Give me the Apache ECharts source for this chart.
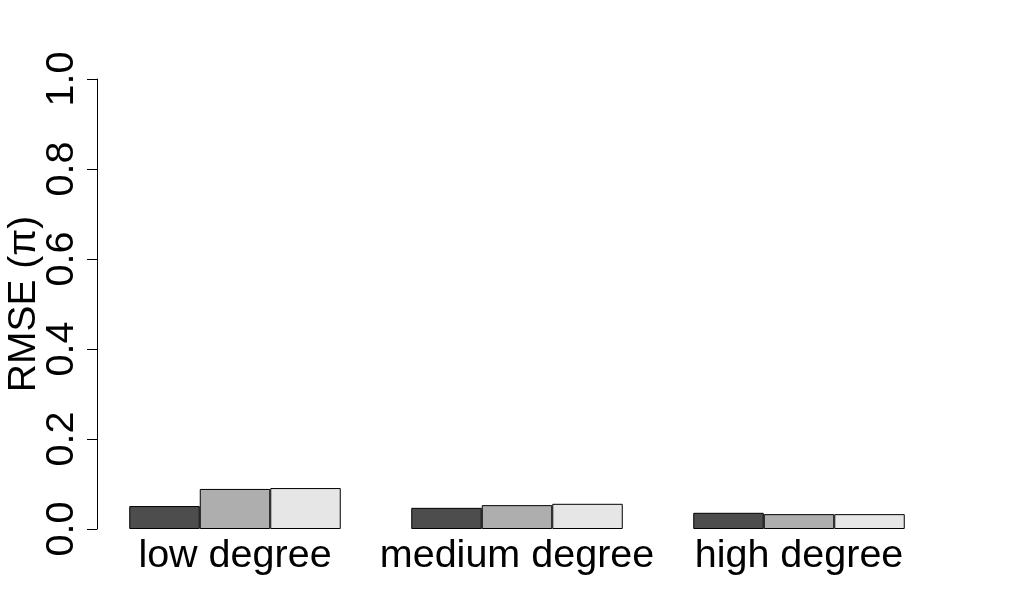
<!DOCTYPE html>
<html>
<head>
<meta charset="utf-8">
<script src="https://cdn.jsdelivr.net/npm/echarts@6/dist/echarts.min.js"></script>
<style>html,body{margin:0;padding:0;background:#fff;}#c{width:1016px;height:608px;}</style>
</head>
<body>
<div id="c"></div>
<script>
const categories = ['low degree', 'medium degree', 'high degree'];
const series1 = [0.051, 0.047, 0.036];
const series2 = [0.089, 0.053, 0.033];
const series3 = [0.091, 0.056, 0.033];
const yTicks = [0, 0.2, 0.4, 0.6, 0.8, 1.0];
const colors = ['#4d4d4d', '#aeaeae', '#e6e6e6'];

const chart = echarts.init(document.getElementById('c'));
const font = 'Liberation Sans, Arial, sans-serif';
function mk(data, i) {
  return {
    type: 'bar', data: data, barWidth: 70.5, barGap: '0%',
    itemStyle: { color: colors[i], borderColor: '#000', borderWidth: 1 },
    silent: true
  };
}
chart.setOption({
  animation: false,
  grid: { left: 94, width: 846, top: 79, height: 450, containLabel: false, outerBoundsMode: 'none' },
  xAxis: {
    type: 'category', data: categories,
    axisLine: { show: false }, axisTick: { show: false },
    axisLabel: { interval: 0, fontSize: 39.5, color: '#000', fontFamily: font, margin: 7, hideOverlap: false }
  },
  yAxis: {
    type: 'value', min: 0, max: 1, interval: 0.2, offset: -3,
    name: 'RMSE (π)', nameLocation: 'middle', nameRotate: 90, nameGap: 53, nameMoveOverlap: false,
    nameTextStyle: { fontSize: 39, color: '#000', fontFamily: font },
    splitLine: { show: false },
    axisLine: { show: true, lineStyle: { color: '#000', width: 1 } },
    axisTick: { show: true, length: 10, lineStyle: { color: '#000' } },
    axisLabel: { rotate: 90, fontSize: 39.5, color: '#000', fontFamily: font, margin: 15,
      formatter: v => v.toFixed(1) }
  },
  series: [mk(series1, 0), mk(series2, 1), mk(series3, 2)]
});
</script>
</body>
</html>
